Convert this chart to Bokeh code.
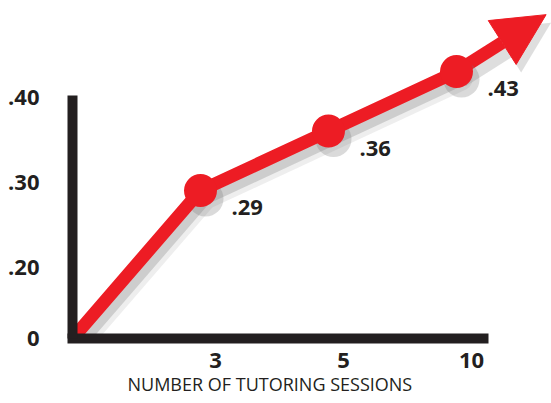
from bokeh.plotting import figure
from bokeh.models import Range1d, FixedTicker, Arrow, NormalHead, LinearAxis, Title
from bokeh.core.properties import value
from bokeh.embed import file_html
from bokeh.resources import INLINE

# ---------------- data ----------------
sessions = ["0", "3", "5", "10"]            # number of tutoring sessions (categories)
effect = [0.0, 0.29, 0.36, 0.43]            # effect size at each session count
effect_labels = [".29", ".36", ".43"]       # point labels (sessions 3, 5, 10)
y_ticks = [0.20, 0.30, 0.40]
y_tick_labels = [".20", ".30", ".40"]
origin_label = "0"
x_title = "NUMBER OF TUTORING SESSIONS"

# ---------------- style / layout ----------------
RED = "#ed1c24"
INK = "#231f20"
SHADOW = "#7a7a7a"
FONT = "Open Sans"

W, H = 551, 403
LEFT, BOTTOM = 72, 65
FRAME_W, FRAME_H = W - LEFT, H - BOTTOM
PX_CAT = 128.0           # pixels per category step
PX_UNIT = 850.0          # pixels per unit of effect size
Y_BREAK = 0.116          # value axis is broken: its bottom stands for the origin
Y_AXIS_TOP = 0.402
XS = 15.0                # category labels sit slightly right of their points
SDX, SDY = 5.0, 8.0      # drop-shadow offset in pixels
TREND_DX, TREND_DY = 0.70, 0.067   # arrow continuing the trend past the last point

pos = list(range(len(sessions)))
plot_y = [Y_BREAK if v == 0 else v for v in effect]

x_end = FRAME_W / PX_CAT
y_end = Y_BREAK + FRAME_H / PX_UNIT

p = figure(width=W, height=H, output_backend="svg", toolbar_location=None,
           x_range=Range1d(0, x_end), y_range=Range1d(Y_BREAK, y_end),
           x_axis_location=None,
           min_border_left=LEFT, min_border_bottom=BOTTOM,
           min_border_top=0, min_border_right=0)
p.outline_line_color = None
p.grid.visible = False
p.background_fill_color = "white"
p.border_fill_color = "white"

p.extra_x_ranges = {
    "shadow": Range1d(-SDX / PX_CAT, x_end - SDX / PX_CAT),
    "ticks": Range1d(-XS / PX_CAT, x_end - XS / PX_CAT),
}
p.extra_y_ranges = {"shadow": Range1d(Y_BREAK + SDY / PX_UNIT, y_end + SDY / PX_UNIT)}

arr_x = pos[-1] + TREND_DX
arr_y = effect[-1] + TREND_DY

# ---- shadows ----
p.add_layout(Arrow(x_start=pos[-1], y_start=effect[-1], x_end=arr_x, y_end=arr_y,
                   x_range_name="shadow", y_range_name="shadow",
                   line_color=SHADOW, line_alpha=0.25, line_width=16,
                   end=NormalHead(size=52, fill_color=SHADOW, fill_alpha=0.25, line_color=None),
                   level="underlay"))
p.line(pos, plot_y, x_range_name="shadow", y_range_name="shadow",
       line_width=22, line_color=SHADOW, line_alpha=0.13, line_join="round", line_cap="round")
p.line(pos, plot_y, x_range_name="shadow", y_range_name="shadow",
       line_width=12, line_color=SHADOW, line_alpha=0.28, line_join="round", line_cap="round")
p.scatter(pos[1:], effect[1:], x_range_name="shadow", y_range_name="shadow",
          size=36, fill_color=SHADOW, fill_alpha=0.28, line_color=None)

# ---- red trend ----
p.add_layout(Arrow(x_start=pos[-1], y_start=effect[-1], x_end=arr_x, y_end=arr_y,
                   line_color=RED, line_width=13,
                   end=NormalHead(size=52, fill_color=RED, line_color=RED, line_width=1),
                   level="underlay"))
p.line(pos, plot_y, line_width=13, line_color=RED, line_join="round")
p.scatter(pos[1:], effect[1:], size=33, fill_color=RED, line_color=None)

p.text(pos[1:], effect[1:], text=effect_labels, x_offset=31, y_offset=17,
       text_align="left", text_baseline="middle", text_font=value(FONT),
       text_font_style="bold", text_font_size="22px", text_color=INK)

# ---- value axis (its bottom end carries the origin "0") ----
yax = p.yaxis[0]
yax.ticker = FixedTicker(ticks=[Y_BREAK] + y_ticks)
yax.major_label_overrides = {Y_BREAK: origin_label, **dict(zip(y_ticks, y_tick_labels))}
yax.bounds = (Y_BREAK, Y_AXIS_TOP)
yax.axis_line_width = 10
yax.axis_line_color = INK
yax.axis_line_cap = "butt"
yax.major_tick_line_color = None
yax.minor_tick_line_color = None
yax.major_label_standoff = 27
yax.major_label_text_font = FONT
yax.major_label_text_font_style = "bold"
yax.major_label_text_font_size = "22px"
yax.major_label_text_color = INK

# ---- category axis ----
x_axis_end = (483 - LEFT - XS) / PX_CAT
xax = LinearAxis(x_range_name="ticks",
                 ticker=FixedTicker(ticks=pos[1:]),
                 major_label_overrides={i: s for i, s in zip(pos[1:], sessions[1:])},
                 bounds=(-XS / PX_CAT, x_axis_end),
                 axis_line_width=10, axis_line_color=INK, axis_line_cap="square",
                 major_tick_line_color=None, minor_tick_line_color=None,
                 major_label_standoff=8,
                 major_label_text_font=FONT, major_label_text_font_style="bold",
                 major_label_text_font_size="22px", major_label_text_color=INK)
p.add_layout(xax, "below")

p.add_layout(Title(text=x_title, align="left", offset=55, vertical_align="top", standoff=2,
                   text_font=FONT, text_font_style="normal", text_font_size="18px",
                   text_color=INK), "below")

open("out.html", "w").write(file_html(p, INLINE))
